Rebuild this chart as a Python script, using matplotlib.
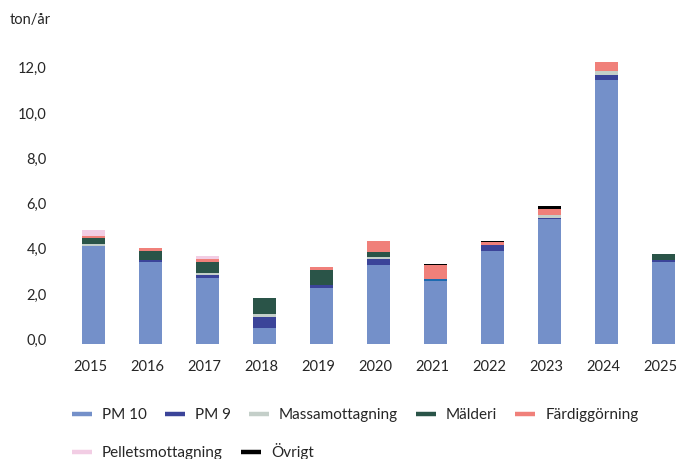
import matplotlib
matplotlib.use("Agg")
import matplotlib.pyplot as plt
import numpy as np
from matplotlib.lines import Line2D
from matplotlib.transforms import ScaledTranslation

plt.rcParams['font.family'] = ['Lato', 'DejaVu Sans']

years = ['2015', '2016', '2017', '2018', '2019', '2020', '2021', '2022', '2023', '2024', '2025']
series_names = ['PM 10', 'PM 9', 'Massamottagning', 'Mälderi', 'Färdiggörning',
                'Pelletsmottagning', 'Övrigt']
pm10 = [4.30, 3.60, 2.89, 0.68, 2.45, 3.47, 2.76, 4.08, 5.50, 11.63, 3.60]
pm9 = [0.00, 0.09, 0.13, 0.49, 0.13, 0.26, 0.09, 0.26, 0.04, 0.22, 0.09]
massamottagning = [0.09, 0.00, 0.09, 0.13, 0.00, 0.09, 0.00, 0.00, 0.13, 0.18, 0.00]
malderi = [0.26, 0.40, 0.49, 0.71, 0.66, 0.22, 0.00, 0.00, 0.00, 0.00, 0.26]
fardiggorning = [0.09, 0.13, 0.13, 0.00, 0.13, 0.49, 0.62, 0.13, 0.26, 0.40, 0.00]
pelletsmottagning = [0.26, 0.00, 0.13, 0.00, 0.00, 0.00, 0.00, 0.00, 0.00, 0.00, 0.00]
ovrigt = [0.00, 0.00, 0.00, 0.00, 0.00, 0.00, 0.04, 0.05, 0.13, 0.00, 0.00]
yticks = [0, 2, 4, 6, 8, 10, 12]
ytick_labels = ['0,0', '2,0', '4,0', '6,0', '8,0', '10,0', '12,0']

colors = ['#7490c9', '#3b4499', '#c4cfc9', '#2a5448', '#f0807a', '#f2cde4', '#000000']
# PM 9 bar for 2021 is drawn in a different blue in the reference
pm9_colors = ['#3b4499'] * len(years)
pm9_colors[6] = '#1d6bb0'

data = [pm10, pm9, massamottagning, malderi, fardiggorning, pelletsmottagning, ovrigt]

fig = plt.figure(figsize=(6.85, 4.59), dpi=100)
W, H = 685, 459
ax = fig.add_axes([65 / W, 1 - 343.5 / H, (685 - 65) / W, (343.5 - 49) / H])

x = np.arange(len(years))
bottom = np.zeros(len(years))
for i, (name, vals) in enumerate(zip(series_names, data)):
    vals = np.array(vals)
    col = pm9_colors if i == 1 else colors[i]
    ax.bar(x, vals, width=0.40, bottom=bottom, color=col, label=name, linewidth=0)
    bottom += vals

ax.set_xlim(-0.5, 10.38)
ax.set_ylim(0, 13)
ax.set_yticks(yticks)
ax.set_yticklabels(ytick_labels)
ax.set_xticks(x)
ax.set_xticklabels(years)
for s in ax.spines.values():
    s.set_visible(False)
ax.tick_params(axis='both', length=0, labelsize=10.5, colors='#262626')
ax.tick_params(axis='y', pad=13)
ax.tick_params(axis='x', pad=12)
offset_y = ScaledTranslation(0, 4 / 100, fig.dpi_scale_trans)
for lab in ax.get_yticklabels():
    lab.set_transform(lab.get_transform() + offset_y)
offset_x = ScaledTranslation(-3 / 100, 0, fig.dpi_scale_trans)
for lab in ax.get_xticklabels():
    lab.set_transform(lab.get_transform() + offset_x)

fig.text(10 / W, 1 - 20 / H, 'ton/år', fontsize=10.5, color='#262626', va='center', ha='left')

handles = [Line2D([0], [0], color=c, lw=3.2, solid_capstyle='butt') for c in colors]
fs = 11
px = fs * 100 / 72
leg_kw = dict(frameon=False, fontsize=fs, handlelength=20 / px, handletextpad=10 / px,
              columnspacing=18 / px, borderpad=0, borderaxespad=0, labelcolor='#262626')
fig.legend(handles[:5], series_names[:5], loc='center left', ncol=5,
           bbox_to_anchor=(72 / W, 1 - 415 / H), **leg_kw)
fig.legend(handles[5:], series_names[5:], loc='center left', ncol=2,
           bbox_to_anchor=(72 / W, 1 - 452 / H), **leg_kw)

fig.savefig('out.png', dpi=100)
